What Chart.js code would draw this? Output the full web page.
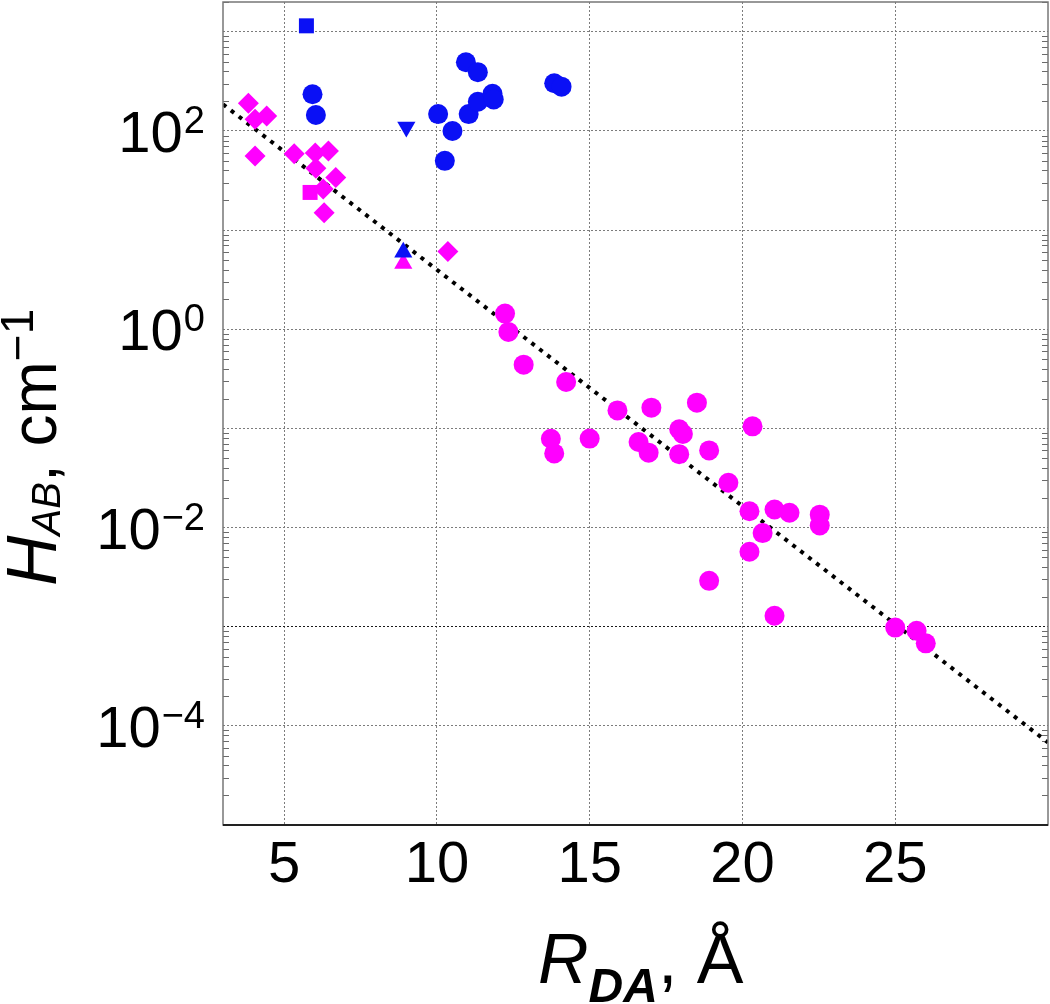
<!DOCTYPE html>
<html>
<head>
<meta charset="utf-8">
<script src="https://cdn.jsdelivr.net/npm/chart.js@4.4.1/dist/chart.umd.min.js"></script>
<style>
  html, body { margin: 0; padding: 0; background: #fff; }
  #wrap { width: 1050px; height: 1004px; position: relative; }
</style>
</head>
<body>
<div id="wrap"><canvas id="c" width="1050" height="1004"></canvas></div>
<script>
// ---- Data (R_DA in Å, H_AB in cm^-1) ----
const xTickValues = [5, 10, 15, 20, 25];
const yLabelExponents = [2, 0, -2, -4];

const blueCircleR = [5.93, 6.04, 10.04, 10.51, 10.26, 10.95, 11.34, 11.04, 11.34, 11.82, 11.86, 13.84, 14.08];
const blueCircleH = [235, 145, 148, 100, 50, 494, 392, 148, 197, 237, 208, 303, 280];

const blueSquareR = [5.73];
const blueSquareH = [1150];

const blueDownTriR = [9.0];
const blueDownTriH = [110];

const blueUpTriR = [8.9];
const blueUpTriH = [6.0];

const pinkDiamondR = [3.83, 4.05, 4.43, 4.05, 5.33, 6.02, 6.45, 6.04, 6.69, 6.28, 6.31, 10.36];
const pinkDiamondH = [190, 131, 142, 56, 59, 60, 63, 42, 34, 26, 15, 6.1];

const pinkSquareR = [5.85];
const pinkSquareH = [24];

const pinkUpTriR = [8.9];
const pinkUpTriH = [4.6];

const pinkCircleR = [12.23, 12.34, 12.84, 14.23, 15.91, 17.02, 18.51, 20.33, 13.73, 13.84, 15.0, 16.6, 16.93, 17.93, 18.05, 17.93, 18.91, 19.54, 20.23, 21.05, 21.54, 20.66, 22.53, 22.53, 20.23, 18.91, 21.05, 25.0, 25.7, 26.0];
const pinkCircleH = [1.44, 0.94, 0.44, 0.294, 0.152, 0.162, 0.182, 0.105, 0.0787, 0.056, 0.079, 0.073, 0.057, 0.098, 0.088, 0.055, 0.060, 0.0283, 0.0146, 0.0152, 0.0141, 0.0088, 0.0135, 0.0105, 0.0057, 0.0029, 0.00129, 0.00098, 0.00091, 0.00068];

const fitR = [3, 30];
const fitH = [186, 0.000068];

// ---- Styling ----
const BLUE = '#0a10f5';
const PINK = '#ff00ff';
const FONT = '"Liberation Sans", Arial, sans-serif';
Chart.defaults.font.family = FONT;

function pts(R, H) { return R.map((r, i) => ({ x: r, y: H[i] })); }
function ptDS(label, R, H, color, style, radius, rotation) {
  return {
    label, data: pts(R, H), showLine: false,
    pointStyle: style, pointRadius: radius, pointHoverRadius: radius,
    pointRotation: rotation || 0,
    backgroundColor: color, borderColor: color, borderWidth: 0
  };
}

const framePlugin = {
  id: 'frame',
  beforeDatasetsDraw(chart) {
    const { ctx, chartArea: a } = chart;
    const ys = chart.scales.y;
    ctx.save();
    ctx.strokeStyle = '#6a6a6a';
    ctx.lineWidth = 1;
    for (let e = -5; e <= 3; e++) {
      for (let m = 2; m <= 9; m++) {
        const v = m * Math.pow(10, e);
        if (v > ys.max) continue;
        const py = Math.round(ys.getPixelForValue(v)) + 0.5;
        ctx.beginPath();
        ctx.moveTo(a.left, py); ctx.lineTo(a.left + 6, py);
        ctx.moveTo(a.right, py); ctx.lineTo(a.right - 6, py);
        ctx.stroke();
      }
    }
    ctx.restore();
  },
  afterDraw(chart) {
    const { ctx, chartArea: a } = chart;
    ctx.save();
    ctx.strokeStyle = '#777';
    ctx.lineWidth = 1.5;
    ctx.strokeRect(a.left, a.top, a.right - a.left, a.bottom - a.top);
    ctx.strokeStyle = '#222';
    ctx.lineWidth = 2;
    ctx.beginPath(); ctx.moveTo(a.left, a.bottom); ctx.lineTo(a.right, a.bottom); ctx.stroke();

    // y tick labels: 10 with superscript exponent
    const ys = chart.scales.y;
    ctx.fillStyle = '#000';
    ctx.textAlign = 'right';
    ctx.textBaseline = 'alphabetic';
    const rightEdge = 205;
    yLabelExponents.forEach(e => {
      const py = ys.getPixelForValue(Math.pow(10, e));
      const sup = e < 0 ? '\u2212' + (-e) : String(e);
      ctx.font = '38px ' + FONT;
      const sw = ctx.measureText(sup).width;
      ctx.fillText(sup, rightEdge, py + 2);
      ctx.font = '58px ' + FONT;
      ctx.fillText('10', rightEdge - sw - 1, py + 21);
    });

    // x axis title: R_DA, Å
    ctx.textAlign = 'left';
    let x = 538;
    ctx.font = 'italic 70px ' + FONT;
    ctx.fillText('R', x, 983); x += ctx.measureText('R').width;
    ctx.font = 'italic bold 48px ' + FONT;
    ctx.fillText('DA', x, 1002); x += ctx.measureText('DA').width;
    ctx.font = '70px ' + FONT;
    ctx.fillText(', \u00C5', x, 983);

    // y axis title: H_AB, cm^-1 (rotated)
    ctx.translate(56, 586);
    ctx.rotate(-Math.PI / 2);
    let t = 0;
    ctx.font = 'italic 70px ' + FONT;
    ctx.fillText('H', t, 0); t += ctx.measureText('H').width;
    ctx.font = 'italic 40px ' + FONT;
    ctx.fillText('AB', t, 4); t += ctx.measureText('AB').width;
    ctx.font = '64px ' + FONT;
    ctx.fillText(', cm', t, 0); t += ctx.measureText(', cm').width;
    ctx.font = '46px ' + FONT;
    ctx.fillText('\u22121', t, -23);
    ctx.restore();
  }
};

new Chart(document.getElementById('c'), {
  type: 'scatter',
  data: {
    datasets: [
      ptDS('blue square', blueSquareR, blueSquareH, BLUE, 'rect', 10.6),
      ptDS('blue down triangle', blueDownTriR, blueDownTriH, BLUE, 'triangle', 10.5, 180),
      ptDS('blue up triangle', blueUpTriR, blueUpTriH, BLUE, 'triangle', 10.5),
      ptDS('blue circles', blueCircleR, blueCircleH, BLUE, 'circle', 10),
      ptDS('magenta up triangle', pinkUpTriR, pinkUpTriH, PINK, 'triangle', 10.5),
      ptDS('magenta square', pinkSquareR, pinkSquareH, PINK, 'rect', 10.6),
      ptDS('magenta diamonds', pinkDiamondR, pinkDiamondH, PINK, 'rectRot', 10.5),
      ptDS('magenta circles', pinkCircleR, pinkCircleH, PINK, 'circle', 10),
      {
        label: 'fit', data: pts(fitR, fitH), showLine: true,
        borderColor: '#000', borderWidth: 4, borderDash: [4, 6], borderCapStyle: 'butt',
        pointRadius: 0, fill: false
      }
    ]
  },
  options: {
    responsive: false,
    animation: false,
    devicePixelRatio: 1,
    layout: { autoPadding: false, padding: { top: 2, right: 2, left: 0, bottom: 0 } },
    plugins: { legend: { display: false }, tooltip: { enabled: false } },
    events: [],
    scales: {
      x: {
        type: 'linear', min: 3, max: 30,
        afterBuildTicks: s => { s.ticks = xTickValues.map(v => ({ value: v })); },
        afterFit: s => { s.height = 179; },
        ticks: { font: { size: 58, family: FONT }, color: '#000', padding: 6, maxRotation: 0, autoSkip: false },
        grid: { color: '#7c7c7c', lineWidth: 1, drawTicks: false },
        border: { display: false, dash: [2, 2] }
      },
      y: {
        type: 'logarithmic', min: 1e-5, max: 2000,
        afterBuildTicks: s => {
          const t = [];
          for (let e = -5; e <= 3; e++) t.push({ value: Math.pow(10, e), major: true });
          s.ticks = t;
        },
        afterFit: s => { s.width = 223; },
        ticks: { display: false },
        grid: {
          color: c => (c.tick && Math.abs(Math.log10(c.tick.value) + 3) < 1e-6) ? '#1a1a1a' : '#7c7c7c',
          lineWidth: 1, drawTicks: false
        },
        border: { display: false, dash: [2, 2] }
      }
    }
  },
  plugins: [framePlugin]
});
</script>
</body>
</html>
